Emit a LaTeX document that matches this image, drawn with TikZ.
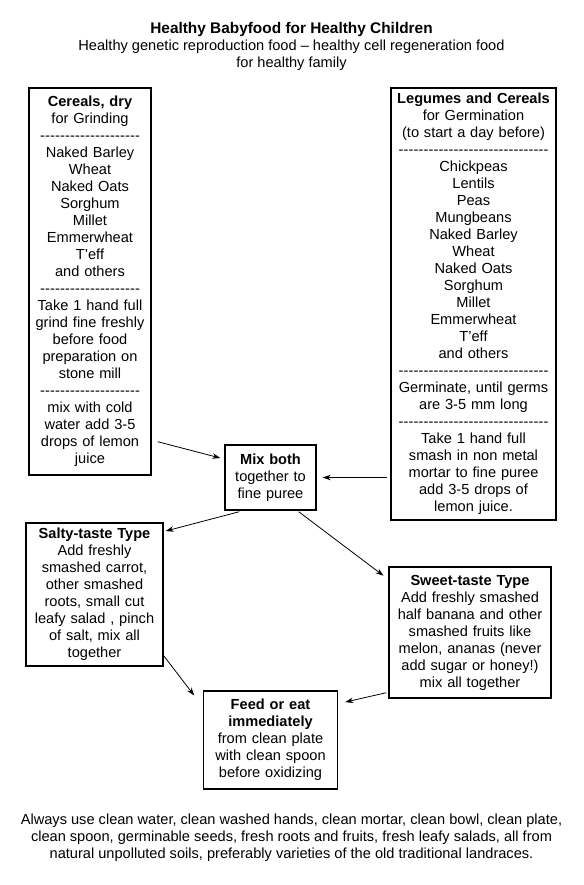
\documentclass[tikz,border=0pt]{standalone}
\usepackage{fontspec}
\setmainfont{Liberation Sans}
\usepackage{tikz}
\usetikzlibrary{
        arrows,
        arrows.meta,
        calc,
        positioning
    }
\tikzset{>={Stealth[length=8pt,width=5.5pt]},shorten >=1pt,auto,node distance=2cm}
\newcommand{\dashrow}[1]{\leavevmode\hbox to #1{\xleaders\hbox{-}\hfill}}

\begin{document}
\begin{tikzpicture}[x=1pt,y=-1pt,>={Stealth[length=8pt,width=5.5pt]},shorten >=1pt,auto,
        font=\fontsize{14.6}{17}\selectfont]
                \tikzstyle{box}=[draw,line width=1.4pt,align=center,inner xsep=4pt,inner ysep=2pt]
                \tikzstyle{flow}=[line width=0.8pt]
                \useasboundingbox (0,0) rectangle (583,885);
                \node[align=center,font=\fontsize{15.4}{17}\selectfont] (title) at (291.5,30) {\textbf{Healthy Babyfood for Healthy Children}};
                \node[align=center] (subtitle) at (291.5,55) {Healthy genetic reproduction food -- healthy cell regeneration food\\ for healthy family};
                \node[box,text width=114pt,minimum height=387pt] (cereals) at (90,281.5)
                    {\textbf{Cereals, dry}\\ for Grinding\\ \dashrow{100pt}\\
                     Naked Barley\\ Wheat\\ Naked Oats\\ Sorghum\\ Millet\\ Emmerwheat\\ T'eff\\ and others\\ \dashrow{100pt}\\
                     Take 1 hand full\\ grind fine freshly\\ before food\\ preparation on\\ stone mill\\ \dashrow{100pt}\\
                     mix with cold\\ water add 3-5\\ drops of lemon\\ juice};
                \node[box,text width=157pt,minimum height=432pt] (legumes) at (473.5,304)
                    {\textbf{Legumes and Cereals}\\ for Germination\\ (to start a day before)\\ \dashrow{150pt}\\
                     Chickpeas\\ Lentils\\ Peas\\ Mungbeans\\ Naked Barley\\ Wheat\\ Naked Oats\\ Sorghum\\ Millet\\ Emmerwheat\\ T'eff\\ and others\\ \dashrow{150pt}\\
                     Germinate, until germs\\ are 3-5 mm long\\ \dashrow{150pt}\\
                     Take 1 hand full\\ smash in non metal\\ mortar to fine puree\\ add 3-5 drops of\\ lemon juice.};
                \node[box,text width=83pt,minimum height=65pt] (mix) at (270.5,477.5)
                    {\textbf{Mix both}\\ together to\\ fine puree};
                \node[box,text width=129pt,minimum height=143pt] (salty) at (94.5,594.5)
                    {\textbf{Salty-taste Type}\\ Add freshly\\ smashed carrot,\\ other smashed\\ roots, small cut\\ leafy salad , pinch\\ of salt, mix all\\ together};
                \node[box,text width=154pt,minimum height=131pt] (sweet) at (470,632.5)
                    {\textbf{Sweet-taste Type}\\ Add freshly smashed\\ half banana and other\\ smashed fruits like\\ melon, ananas (never\\ add sugar or honey!)\\ mix all together};
                \node[box,text width=126pt,minimum height=98pt] (feed) [below of=mix,node distance=262.5pt]
                    {\textbf{Feed or eat}\\ \textbf{immediately}\\ from clean plate\\ with clean spoon\\ before oxidizing};
                \node[align=center] (note) at (291.5,838)
                    {Always use clean water, clean washed hands, clean mortar, clean bowl, clean plate,\\
                     clean spoon, germinable seeds, fresh roots and fruits, fresh leafy salads, all from\\
                     natural unpolluted soils, preferably varieties of the old traditional landraces.};
                \path[->,flow]
                    ($(cereals.south east)+(6,-34)$)  edge  ($(mix.north west)+(-3,14)$)
                    ($(legumes.west |- mix.east)+(-3,0)$)  edge  ($(mix.east)+(5,0)$)
                    ($(mix.south west)+(15,1)$)  edge  ($(salty.north east)+(1,9)$)
                    ($(mix.south east)+(-18,1)$)  edge  ($(sweet.north west)+(-4,10)$)
                    ($(salty.south east)+(0,-11)$)  edge  ($(feed.north west)+(-8,6)$)
                    ($(sweet.south west)+(-2,-6)$)  edge  ($(feed.north east)+(6,12)$);
            \end{tikzpicture}
\end{document}
